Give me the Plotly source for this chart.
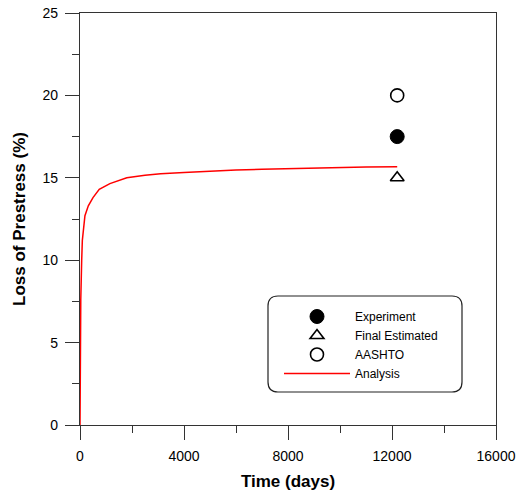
import plotly.graph_objects as go

# Analysis curve
t_days = [0, 10, 30, 65, 90, 190, 320, 500, 740, 1150, 1800, 2500, 3100, 4000,
          5000, 6000, 7000, 8000, 9000, 10000, 11000, 12200]
loss_analysis = [0, 5.0, 7.6, 10.0, 11.2, 12.7, 13.3, 13.8, 14.3, 14.65, 15.0, 15.15,
                 15.25, 15.32, 15.41, 15.47, 15.52, 15.56, 15.6, 15.63, 15.65, 15.67]

# Point values
t_point = [12200]
experiment = [17.5]
final_est = [15.0]
aashto = [20.0]

x_ticks = [0, 4000, 8000, 12000, 16000]
y_ticks = [0, 5, 10, 15, 20, 25]

fig = go.Figure()
fig.add_trace(go.Scatter(x=t_point, y=experiment, mode="markers", name="Experiment",
                         marker=dict(symbol="circle", size=14, color="black",
                                     line=dict(color="black", width=1))))
fig.add_trace(go.Scatter(x=t_point, y=final_est, mode="markers", name="Final Estimated",
                         marker=dict(symbol="triangle-up-open", size=12, color="black",
                                     line=dict(color="black", width=1.6))))
fig.add_trace(go.Scatter(x=t_point, y=aashto, mode="markers", name="AASHTO",
                         marker=dict(symbol="circle-open", size=13, color="black",
                                     line=dict(color="black", width=1.6))))
fig.add_trace(go.Scatter(x=t_days, y=loss_analysis, mode="lines", name="Analysis",
                         line=dict(color="red", width=1.5)))

axis_common = dict(showline=True, linecolor="#333333", linewidth=1.3, mirror=True,
                   ticks="outside", ticklen=14, tickwidth=1.3, tickcolor="#333333",
                   showgrid=False, zeroline=False, automargin=False,
                   tickfont=dict(family="Liberation Sans, Arial", size=14, color="black"))

fig.update_xaxes(range=[0, 16000], tickvals=x_ticks, ticktext=[str(v) for v in x_ticks],
                 minor=dict(ticks="outside", ticklen=7, dtick=2000, tick0=0,
                            tickcolor="#333333", tickwidth=1.3, showgrid=False),
                 title=dict(text="<b>Time (days)</b>", standoff=12,
                            font=dict(family="Liberation Sans, Arial", size=17, color="black")),
                 ticklabelstandoff=4,
                 **axis_common)
fig.update_yaxes(range=[0, 25], tickvals=y_ticks, ticktext=[str(v) for v in y_ticks],
                 minor=dict(ticks="outside", ticklen=7, dtick=2.5, tick0=0,
                            tickcolor="#333333", tickwidth=1.3, showgrid=False),
                 title=dict(text="<b>Loss of Prestress (%)</b>", standoff=12,
                            font=dict(family="Liberation Sans, Arial", size=17, color="black")),
                 ticklabelstandoff=4,
                 **axis_common)

# rounded legend frame (paper coordinates)
X0, X1, Y0, Y1, R = 268, 462, 296, 392, 10
def px(x):
    return (x - 80) / (496 - 80)
def py(y):
    return (425 - y) / (425 - 13)
rx = R / (496 - 80)
ry = R / (425 - 13)
a, b = px(X0), px(X1)
c, d = py(Y1), py(Y0)  # bottom, top
path = (f"M{a+rx},{d} L{b-rx},{d} Q{b},{d} {b},{d-ry} L{b},{c+ry} Q{b},{c} {b-rx},{c} "
        f"L{a+rx},{c} Q{a},{c} {a},{c+ry} L{a},{d-ry} Q{a},{d} {a+rx},{d} Z")
fig.add_shape(type="path", xref="paper", yref="paper", path=path,
              line=dict(color="#222222", width=1.2), fillcolor="rgba(0,0,0,0)")

fig.update_layout(
    width=528, height=497,
    margin=dict(l=80, r=32, t=13, b=72, autoexpand=False),
    paper_bgcolor="white", plot_bgcolor="white",
    showlegend=True,
    legend=dict(x=px(279), y=py(302), xanchor="left", yanchor="top",
                bgcolor="rgba(0,0,0,0)", borderwidth=0,
                font=dict(family="Liberation Sans, Arial", size=12, color="black"),
                itemwidth=66, tracegroupgap=0),
)

fig.write_html("out.html", config={"displayModeBar": False},
               post_script="document.body.style.margin='0';document.body.style.overflow='hidden';")
